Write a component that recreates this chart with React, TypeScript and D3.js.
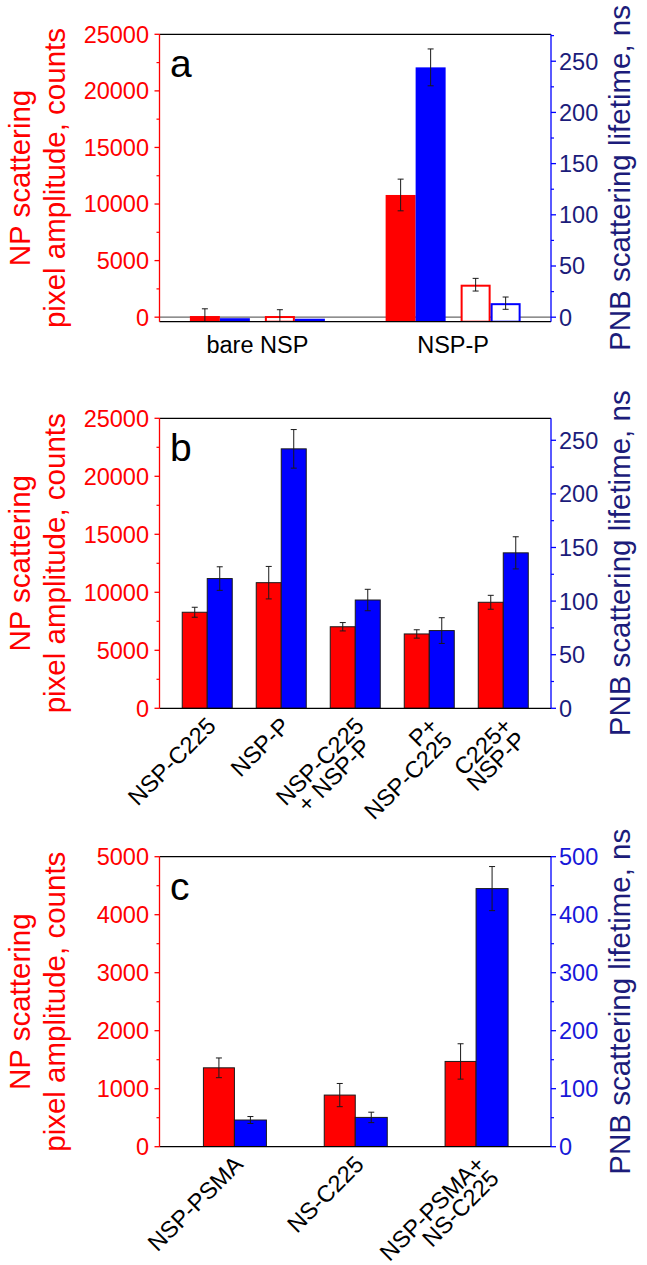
import React from 'react';
import * as d3 from 'd3';

const FONT = '"Liberation Sans", Arial, Helvetica, sans-serif';

// ---------- Panel a ----------
const catsA = ['bare NSP', 'NSP-P'];
const ampA = [100, 10800];
const ampErrA = [640, 1400];
const lifeA = [-1, 244];
const lifeErrA = [0, 18];
const ampOpenA = [100, 2870];
const ampOpenErrA = [560, 560];
const lifeOpenA = [-1.5, 13.7];
const lifeOpenErrA = [0, 6];

// ---------- Panel b ----------
const catsB = [['NSP-C225'], ['NSP-P'], ['NSP-C225', '+ NSP-P'], ['P+', 'NSP-C225'], ['C225+', 'NSP-P']];
const ampB = [8280, 10830, 7030, 6410, 9140];
const ampErrB = [430, 1400, 360, 360, 600];
const lifeB = [121, 242, 101, 72.5, 145];
const lifeErrB = [11, 18, 10, 12, 15];

// ---------- Panel c ----------
const catsC = [['NSP-PSMA'], ['NS-C225'], ['NSP-PSMA+', 'NS-C225']];
const ampC = [1360, 890, 1470];
const ampErrC = [170, 200, 305];
const lifeC = [46, 50.5, 445];
const lifeErrC = [6, 9, 38];

// ---------- Ticks ----------
const ampTicksAB = [0, 5000, 10000, 15000, 20000, 25000];
const lifeTicksAB = [0, 50, 100, 150, 200, 250];
const ampTicksC = [0, 1000, 2000, 3000, 4000, 5000];
const lifeTicksC = [0, 100, 200, 300, 400, 500];

const RED = '#ff0000';
const BLUE = '#0000ff';
const NAVY = '#1c1c7a';

const X0 = 159.5;
const X1 = 551;
const TICK_FS = 23.5;
const TITLE_FS = 29.5;

type Bar = {
  x: number; w: number; v: number; e: number;
  scale: d3.ScaleLinear<number, number>;
  color: string; open: boolean; outline: boolean;
};

let measureCtx: CanvasRenderingContext2D | null = null;
function textWidth(s: string, fs: number) {
  if (!measureCtx) {
    const c = document.createElement('canvas');
    measureCtx = c.getContext('2d');
  }
  if (!measureCtx) return s.length * fs * 0.6;
  measureCtx.font = `${fs}px "Liberation Sans", Arial, sans-serif`;
  return measureCtx.measureText(s).width;
}

function Panel(props: {
  id: string; top: number; bottom: number; yL: d3.ScaleLinear<number, number>; yR: d3.ScaleLinear<number, number>;
  ampTicks: number[]; ampMinor: number[]; lifeTicks: number[]; lifeMinor: number[];
  bars: Bar[]; letter: string; rightLabelColor: string; zeroLine?: boolean;
  children?: React.ReactNode;
}) {
  const { id, top, bottom, yL, yR, bars } = props;
  const cy = (top + bottom) / 2;
  const clipId = `clip-${id}`;
  return (
    <g>
      <defs>
        <clipPath id={clipId}>
          <rect x={X0} y={top} width={X1 - X0} height={bottom - top} />
        </clipPath>
      </defs>
      {props.zeroLine && (
        <line x1={X0} x2={X1} y1={yL(0)} y2={yL(0)} stroke="#6a6a6a" strokeWidth={1.3} />
      )}
      <g clipPath={`url(#${clipId})`}>
        {bars.map((b, i) => {
          const yv = b.scale(b.v);
          const h = bottom - yv;
          if (b.open) {
            return (
              <rect key={i} x={b.x + 1} y={yv + 1} width={b.w - 2} height={Math.max(h - 1, 0.5)}
                fill="#ffffff" stroke={b.color} strokeWidth={2} />
            );
          }
          return (
            <rect key={i} x={b.x} y={yv} width={b.w} height={h} fill={b.color}
              stroke={b.outline ? '#1a1a1a' : 'none'} strokeWidth={b.outline ? 1 : 0} />
          );
        })}
        {bars.filter(b => b.e > 0).map((b, i) => {
          const cx = b.x + b.w / 2;
          const y1 = b.scale(b.v + b.e);
          const y2 = b.scale(b.v - b.e);
          return (
            <g key={'e' + i} stroke="#1a1a1a" strokeWidth={1}>
              <line x1={cx} x2={cx} y1={y1} y2={y2} />
              <line x1={cx - 3} x2={cx + 3} y1={y1} y2={y1} />
              <line x1={cx - 3} x2={cx + 3} y1={y2} y2={y2} />
            </g>
          );
        })}
      </g>
      {/* frame */}
      <line x1={X0} x2={X1} y1={top} y2={top} stroke="#000" strokeWidth={1.3} />
      <line x1={X0} x2={X1} y1={bottom} y2={bottom} stroke="#000" strokeWidth={1.3} />
      <line x1={X0} x2={X0} y1={top} y2={bottom} stroke={RED} strokeWidth={1.3} />
      <line x1={X1} x2={X1} y1={top} y2={bottom} stroke={BLUE} strokeWidth={1.3} />
      {/* left axis ticks */}
      {props.ampTicks.map(t => (
        <g key={'la' + t}>
          <line x1={X0 - 5} x2={X0} y1={yL(t)} y2={yL(t)} stroke={RED} strokeWidth={1.3} />
          <text x={149} y={yL(t)} dy="0.36em" textAnchor="end" fill={RED} fontSize={TICK_FS} fontFamily={FONT}>{t}</text>
        </g>
      ))}
      {props.ampMinor.map(t => (
        <line key={'lm' + t} x1={X0 - 3} x2={X0} y1={yL(t)} y2={yL(t)} stroke={RED} strokeWidth={1.2} />
      ))}
      {/* right axis ticks */}
      {props.lifeTicks.map(t => (
        <g key={'ra' + t}>
          <line x1={X1} x2={X1 + 5} y1={yR(t)} y2={yR(t)} stroke={BLUE} strokeWidth={1.3} />
          <text x={559} y={yR(t)} dy="0.36em" textAnchor="start" fill={props.rightLabelColor} fontSize={TICK_FS} fontFamily={FONT}>{t}</text>
        </g>
      ))}
      {props.lifeMinor.map(t => (
        <line key={'rm' + t} x1={X1} x2={X1 + 3} y1={yR(t)} y2={yR(t)} stroke={BLUE} strokeWidth={1.2} />
      ))}
      {/* titles */}
      <text transform={`translate(30,${cy}) rotate(-90)`} textAnchor="middle" fill={RED} fontSize={TITLE_FS} fontFamily={FONT}>NP scattering</text>
      <text transform={`translate(65,${cy}) rotate(-90)`} textAnchor="middle" fill={RED} fontSize={TITLE_FS} fontFamily={FONT}>pixel amplitude, counts</text>
      <text transform={`translate(630,${cy}) rotate(-90)`} textAnchor="middle" fill={NAVY} fontSize={TITLE_FS} fontFamily={FONT}>PNB scattering lifetime, ns</text>
      <text x={170} y={top + 43} fill="#000" fontSize={39} fontFamily={FONT}>{props.letter}</text>
      {props.children}
    </g>
  );
}

function RotLabels(props: { cats: string[][]; x: (c: string) => number; bottom: number; align?: string[] }) {
  const L = 20;
  return (
    <g>
      {props.cats.map((lines, i) => {
        const key = lines.join('\n');
        const cx = props.x(key);
        const align = props.align ? props.align[i] : 'end';
        const w0 = textWidth(lines[0], TICK_FS);
        return (
          <text key={key} transform={`translate(${cx + 10},${props.bottom + 19}) rotate(-45)`}
            fontSize={TICK_FS} fontFamily={FONT} fill="#000">
            {lines.map((ln, j) => (
              <tspan key={j} x={align === 'middle' ? -w0 / 2 : 0} y={j * L}
                textAnchor={align === 'middle' ? 'middle' : 'end'}>{ln}</tspan>
            ))}
          </text>
        );
      })}
    </g>
  );
}

export default function App() {
  // ----- panel a -----
  const topA = 34.3, botA = 321.7;
  const yLA = d3.scaleLinear().domain([-400, 25000]).range([botA, topA]);
  const yRA = d3.scaleLinear().domain([-4.4, 276.3]).range([botA, topA]);
  const xA = d3.scaleBand<string>().domain(catsA).range([X0, X1]).padding(0);
  const barsA: Bar[] = [];
  catsA.forEach((c, i) => {
    const cx = (xA(c) as number) + xA.bandwidth() / 2;
    barsA.push({ x: cx - 67.5, w: 30, v: ampA[i], e: ampErrA[i], scale: yLA, color: RED, open: false, outline: false });
    barsA.push({ x: cx - 37.5, w: 30, v: lifeA[i], e: lifeErrA[i], scale: yRA, color: BLUE, open: false, outline: false });
    barsA.push({ x: cx + 7.5, w: 30, v: ampOpenA[i], e: ampOpenErrA[i], scale: yLA, color: RED, open: true, outline: false });
    barsA.push({ x: cx + 37.5, w: 30, v: lifeOpenA[i], e: lifeOpenErrA[i], scale: yRA, color: BLUE, open: true, outline: false });
  });

  // ----- panel b -----
  const topB = 418.3, botB = 708.3;
  const yLB = d3.scaleLinear().domain([0, 25000]).range([botB, topB]);
  const yRB = d3.scaleLinear().domain([0, 270.5]).range([botB, topB]);
  const keysB = catsB.map(l => l.join('\n'));
  const xB = d3.scalePoint<string>().domain(keysB).range([X0, X1]).padding(0.645);
  const barsB: Bar[] = [];
  keysB.forEach((k, i) => {
    const cx = xB(k) as number;
    barsB.push({ x: cx - 25, w: 25, v: ampB[i], e: ampErrB[i], scale: yLB, color: RED, open: false, outline: true });
    barsB.push({ x: cx, w: 25, v: lifeB[i], e: lifeErrB[i], scale: yRB, color: BLUE, open: false, outline: true });
  });

  // ----- panel c -----
  const topC = 856.7, botC = 1146.7;
  const yLC = d3.scaleLinear().domain([0, 5000]).range([botC, topC]);
  const yRC = d3.scaleLinear().domain([0, 500]).range([botC, topC]);
  const keysC = catsC.map(l => l.join('\n'));
  const xC = d3.scalePoint<string>().domain(keysC).range([X0, X1]).padding(0.62);
  const barsC: Bar[] = [];
  keysC.forEach((k, i) => {
    const cx = xC(k) as number;
    barsC.push({ x: cx - 31, w: 31, v: ampC[i], e: ampErrC[i], scale: yLC, color: RED, open: false, outline: true });
    barsC.push({ x: cx, w: 32, v: lifeC[i], e: lifeErrC[i], scale: yRC, color: BLUE, open: false, outline: true });
  });

  const minorAB = d3.range(2500, 25000, 5000);
  const lifeMinorA = d3.range(25, 276, 50);
  const lifeMinorB = d3.range(25, 270, 50);
  const minorC = d3.range(500, 5000, 1000);
  const lifeMinorC = d3.range(50, 500, 100);

  return (
    <svg width={647} height={1265} style={{ position: 'absolute', left: 0, top: 0, background: '#fff' }}
      xmlns="http://www.w3.org/2000/svg">
      <rect x={0} y={0} width={647} height={1265} fill="#fff" />
      <Panel id="a" top={topA} bottom={botA} yL={yLA} yR={yRA} ampTicks={ampTicksAB} ampMinor={minorAB}
        lifeTicks={lifeTicksAB} lifeMinor={lifeMinorA} bars={barsA} letter="a" rightLabelColor={NAVY} zeroLine>
        {catsA.map(c => (
          <text key={c} x={(xA(c) as number) + xA.bandwidth() / 2} y={botA + 31} textAnchor="middle"
            fontSize={TICK_FS} fontFamily={FONT} fill="#000">{c}</text>
        ))}
      </Panel>
      <Panel id="b" top={topB} bottom={botB} yL={yLB} yR={yRB} ampTicks={ampTicksAB} ampMinor={minorAB}
        lifeTicks={lifeTicksAB} lifeMinor={lifeMinorB} bars={barsB} letter="b" rightLabelColor={NAVY}>
        <RotLabels cats={catsB} x={(k) => xB(k) as number} bottom={botB} align={['end', 'end', 'middle', 'end', 'end']} />
      </Panel>
      <Panel id="c" top={topC} bottom={botC} yL={yLC} yR={yRC} ampTicks={ampTicksC} ampMinor={minorC}
        lifeTicks={lifeTicksC} lifeMinor={lifeMinorC} bars={barsC} letter="c" rightLabelColor="#1818d8">
        <RotLabels cats={catsC} x={(k) => xC(k) as number} bottom={botC} />
      </Panel>
    </svg>
  );
}
